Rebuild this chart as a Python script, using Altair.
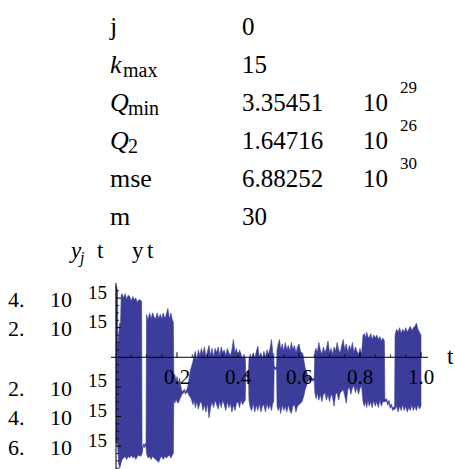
import altair as alt
import pandas as pd

# ---------------- data (signal values in units of 1e15) ----------------
T = [0.000, 0.003, 0.005, 0.006, 0.009, 0.012, 0.015, 0.017, 0.020, 0.025,
     0.030, 0.035, 0.040, 0.045, 0.050, 0.055, 0.060, 0.065, 0.070, 0.075,
     0.080, 0.084,
     0.0855, 0.088, 0.091, 0.094, 0.097, 0.0985,
     0.100, 0.105, 0.110, 0.115, 0.120, 0.125, 0.130, 0.135, 0.140, 0.145,
     0.150, 0.155, 0.160, 0.165, 0.170, 0.175, 0.180, 0.185, 0.188,
     0.1895, 0.193, 0.197, 0.200, 0.204, 0.208, 0.212, 0.216, 0.220, 0.224,
     0.228, 0.232, 0.236, 0.240, 0.244, 0.248,
     0.252, 0.256, 0.260, 0.265, 0.270, 0.275, 0.280, 0.285, 0.290, 0.295,
     0.300, 0.305, 0.310, 0.315, 0.320, 0.325, 0.330, 0.335, 0.340, 0.345,
     0.350, 0.355, 0.360, 0.365, 0.370, 0.375, 0.380, 0.385, 0.390, 0.395,
     0.400, 0.405, 0.410, 0.415, 0.420, 0.424,
     0.4255, 0.430, 0.4345,
     0.436, 0.440, 0.445, 0.450, 0.455, 0.460, 0.465, 0.470, 0.475, 0.480,
     0.485, 0.490, 0.495, 0.500, 0.505, 0.510, 0.514, 0.517,
     0.5185, 0.523, 0.5265,
     0.528, 0.532, 0.536, 0.540, 0.545, 0.550, 0.555, 0.560, 0.565, 0.570,
     0.575, 0.580, 0.585, 0.590, 0.595, 0.600, 0.605, 0.610, 0.613,
     0.616, 0.620, 0.625, 0.630, 0.635, 0.640, 0.645, 0.650,
     0.652, 0.656, 0.660, 0.665, 0.670, 0.675, 0.680, 0.685, 0.690, 0.695,
     0.700, 0.705, 0.710, 0.715, 0.720, 0.725, 0.730, 0.735, 0.740, 0.745,
     0.750, 0.755, 0.760, 0.765, 0.770, 0.775, 0.780, 0.785, 0.790, 0.795,
     0.800, 0.805,
     0.810, 0.814, 0.818, 0.822, 0.826, 0.830, 0.835, 0.840, 0.845, 0.850,
     0.855, 0.860, 0.865, 0.870, 0.875, 0.880,
     0.8815, 0.887, 0.891, 0.895, 0.899, 0.903, 0.907, 0.911, 0.9135,
     0.915, 0.920, 0.925, 0.930, 0.935, 0.940, 0.945, 0.950, 0.955, 0.960,
     0.965, 0.970, 0.975, 0.980, 0.985, 0.990, 0.995, 1.000]

UPPER = [4.85, 4.7, 4.5, 0.8, 1.5, 2.3, 2.3, 4.2, 4.3, 4.0,
         4.3, 3.9, 4.2, 4.1, 3.8, 4.1, 3.9, 4.0, 3.7, 3.9,
         3.85, 3.8,
         -6.3, -6.0, -5.85, -5.95, -5.8, -5.9,
         2.9, 2.5, 3.0, 2.6, 3.0, 2.7, 2.6, 3.0, 2.6, 2.9,
         2.6, 3.0, 2.6, 2.9, 3.3, 2.6, 3.0, 2.5, 2.4,
         -1.1, -1.2, -1.6, -1.3, -1.8, -1.4, -1.9, -2.3, -2.3, -2.15,
         -2.35, -2.2, -1.9, -1.4, -0.9, -0.6,
         -0.3, 0.1, 0.4, -0.2, 0.5, 0.1, 0.6, 0.2, 0.7, 0.0,
         0.4, 0.8, 0.1, 0.6, 0.0, 0.6, 0.3, 0.7, 0.1, 0.7,
         0.3, 0.5, 0.1, 0.6, 0.3, 0.1, 0.5, 1.2, 0.3, 0.6,
         0.0, 0.5, 0.2, -0.1, 0.2, -0.1,
         -1.1, -1.2, -1.1,
         -0.1, 0.2, -0.1, 0.3, -0.1, 0.4, 0.75, 0.0, 0.3, -0.1,
         0.4, 0.0, 0.5, 0.2, 0.6, 1.2, 0.3, 0.2,
         -0.6, -0.7, -0.6,
         0.5, 0.9, 1.2, 0.5, 0.9, 0.4, 1.0, 0.5, 0.8, 0.4,
         1.0, 0.5, 0.8, 0.3, 0.7, 0.9, 0.4, 0.3, 0.2,
         -0.2, -0.7, -1.0, -1.3, -1.4, -1.35, -1.45, -1.4,
         0.4, 0.6, 0.3, 1.0, 0.5, 0.2, 0.7, 0.3, 0.6, 1.1,
         0.3, 0.6, 0.2, 0.7, 0.4, 1.0, 0.5, 0.3, 0.8, 1.2,
         0.5, 0.9, 0.3, 0.8, 0.5, 1.0, 0.3, 0.7, 0.4, 0.2,
         0.6, 0.2,
         1.5, 1.6, 1.3, 1.7, 1.4, 1.3, 1.6, 1.2, 1.5, 1.3,
         1.5, 1.2, 1.4, 1.1, 1.3, 1.1,
         -2.85, -2.8, -3.1, -2.9, -3.3, -3.15, -3.45, -3.35, -3.4,
         1.5, 1.9, 1.7, 2.0, 1.6, 1.9, 1.7, 2.0, 1.7, 1.9,
         2.1, 1.8, 2.0, 2.1, 2.3, 1.9, 1.7, 1.5]

LOWER = [-5.8, -5.8, -5.9, -6.2, -7.2, -7.5, -7.3, -7.1, -6.9, -6.8,
         -6.7, -6.9, -6.7, -6.8, -6.6, -6.8, -6.7, -6.9, -6.7, -6.6,
         -6.7, -6.6,
         -6.5, -6.15, -6.0, -6.1, -5.95, -6.05,
         -6.5, -6.8, -6.7, -6.9, -6.7, -6.8, -6.9, -7.0, -7.1, -6.8,
         -6.7, -6.9, -6.7, -6.8, -6.7, -6.6, -6.8, -6.6, -6.5,
         -2.9, -3.1, -2.8, -3.0, -3.1, -2.9, -2.7, -2.5, -2.45, -2.3,
         -2.5, -2.35, -2.4, -2.6, -2.7, -2.9,
         -3.2, -2.9, -3.4, -3.0, -3.5, -3.1, -3.0, -3.6, -3.2, -3.7,
         -3.1, -4.1, -3.4, -3.0, -3.4, -2.9, -3.2, -3.5, -3.0, -3.4,
         -2.9, -3.2, -3.6, -3.0, -3.4, -3.1, -3.7, -3.2, -3.6, -3.1,
         -3.0, -3.4, -2.9, -3.2, -3.0, -2.9,
         -1.25, -1.35, -1.25,
         -2.9, -3.4, -3.6, -3.1, -3.7, -3.2, -3.6, -3.1, -3.7, -3.3,
         -3.2, -3.7, -3.1, -3.5, -3.2, -3.6, -3.1, -3.0,
         -0.75, -0.85, -0.75,
         -3.3, -3.6, -3.3, -3.8, -3.2, -3.6, -3.3, -3.7, -3.2, -3.6,
         -3.8, -3.3, -3.2, -3.7, -3.3, -3.2, -3.1, -3.0, -2.8,
         -2.6, -2.2, -1.9, -1.6, -1.55, -1.5, -1.6, -1.55,
         -2.4, -2.8, -2.4, -2.9, -2.5, -3.0, -2.5, -2.4, -2.9, -2.5,
         -3.0, -2.5, -2.7, -3.3, -2.5, -2.4, -2.9, -2.4, -2.3, -2.2,
         -2.6, -3.1, -2.2, -2.0, -2.5, -2.1, -1.9, -2.4, -2.0, -2.5,
         -2.1, -1.9,
         -3.0, -3.3, -3.0, -3.4, -2.9, -3.3, -3.0, -3.4, -2.9, -3.3,
         -3.0, -3.4, -2.9, -3.3, -3.0, -3.0,
         -3.0, -2.95, -3.25, -3.05, -3.45, -3.3, -3.6, -3.5, -3.55,
         -3.5, -3.3, -3.7, -3.3, -3.6, -3.2, -3.6, -3.3, -3.7, -3.4,
         -3.6, -3.2, -3.6, -3.3, -3.6, -3.2, -3.5, -3.3]

# axes / tick labels
X_MAJOR = [0.2, 0.4, 0.6, 0.8, 1.0]
X_LABELS = ["0.2", "0.4", "0.6", "0.8", "1.0"]
X_MINOR = [0.05, 0.1, 0.15, 0.25, 0.3, 0.35, 0.45, 0.5, 0.55, 0.65, 0.7,
           0.75, 0.85, 0.9, 0.95]
Y_MAJOR = [4, 2, -2, -4, -6]
Y_MANTISSA = ["4.", "2.", "2.", "4.", "6."]
Y_BASE = ["10", "10", "10", "10", "10"]
Y_EXP = ["15", "15", "15", "15", "15"]
Y_MINOR = [4.5, 3.5, 3, 2.5, 1.5, 1, 0.5, -0.5, -1, -1.5, -2.5, -3, -3.5,
           -4.5, -5, -5.5, -6.5, -7, -7.5]
X_RANGE = [-5 / 305, 312 / 305]
Y_RANGE = [-7.55, 5.02]

# table above the plot
ROW_NAME = ["j", "k", "Q", "Q", "mse", "m"]
ROW_NAME_ITALIC = [False, True, True, True, False, False]
ROW_SUB = ["", "max", "min", "2", "", ""]
ROW_VALUE = ["0", "15", "3.35451", "1.64716", "6.88252", "30"]
ROW_POW = ["", "", "10", "10", "10", ""]
ROW_EXP = ["", "", "29", "26", "30", ""]

AXIS_LABEL = ["y", "j", "t", "y", "t"]
X_AXIS_NAME = "t"

# ---------------- styling ----------------
BLUE = "#3c3c9a"
FONT = "Liberation Serif"
W, H = 317, 186
xs = alt.Scale(domain=X_RANGE, nice=False, zero=False)
ys = alt.Scale(domain=Y_RANGE, nice=False, zero=False)
Y0 = Y_RANGE[1] / (Y_RANGE[1] - Y_RANGE[0]) * H   # pixel row of value 0

sig = pd.DataFrame({"t": T, "upper": UPPER, "lower": LOWER})

band = alt.Chart(sig).mark_area(color=BLUE, stroke=BLUE, strokeWidth=0.6,
                                interpolate="linear", opacity=1).encode(
    x=alt.X("t:Q", scale=xs, axis=None),
    y=alt.Y("upper:Q", scale=ys, axis=None),
    y2="lower:Q",
)

axdf = pd.DataFrame({"x1": [X_RANGE[0]], "x2": [X_RANGE[1]],
                     "y1": [Y_RANGE[0]], "y2": [Y_RANGE[1]], "zero": [0.0]})
x_axis = alt.Chart(axdf).mark_rule(color="black", strokeWidth=1).encode(
    x=alt.X("x1:Q", scale=xs, axis=None), x2="x2:Q",
    y=alt.Y("zero:Q", scale=ys, axis=None))
y_axis = alt.Chart(axdf).mark_rule(color="black", strokeWidth=1).encode(
    x=alt.X("zero:Q", scale=xs, axis=None),
    y=alt.Y("y1:Q", scale=ys, axis=None), y2="y2:Q")

xmaj = pd.DataFrame({"t": X_MAJOR, "lab": X_LABELS, "zero": 0.0})
xmin_ = pd.DataFrame({"t": X_MINOR, "zero": 0.0})
ymaj = pd.DataFrame({"v": Y_MAJOR, "m": Y_MANTISSA, "b": Y_BASE,
                     "e": Y_EXP, "zero": 0.0})
ymin_ = pd.DataFrame({"v": Y_MINOR, "zero": 0.0})

xt_major = alt.Chart(xmaj).mark_rule(color="black", strokeWidth=1,
                                     y2Offset=-5).encode(
    x=alt.X("t:Q", scale=xs, axis=None),
    y=alt.Y("zero:Q", scale=ys, axis=None), y2="zero:Q")
xt_minor = alt.Chart(xmin_).mark_rule(color="black", strokeWidth=0.8,
                                      y2Offset=-3).encode(
    x=alt.X("t:Q", scale=xs, axis=None),
    y=alt.Y("zero:Q", scale=ys, axis=None), y2="zero:Q")
yt_major = alt.Chart(ymaj).mark_rule(color="black", strokeWidth=1,
                                     x2Offset=5).encode(
    y=alt.Y("v:Q", scale=ys, axis=None),
    x=alt.X("zero:Q", scale=xs, axis=None), x2="zero:Q")
yt_minor = alt.Chart(ymin_).mark_rule(color="black", strokeWidth=0.8,
                                      x2Offset=3).encode(
    y=alt.Y("v:Q", scale=ys, axis=None),
    x=alt.X("zero:Q", scale=xs, axis=None), x2="zero:Q")

x_labels = alt.Chart(xmaj).mark_text(font=FONT, fontSize=21, align="center",
                                     baseline="alphabetic", dy=26.7,
                                     color="black").encode(
    x=alt.X("t:Q", scale=xs, axis=None),
    y=alt.Y("zero:Q", scale=ys, axis=None), text="lab:N")


def ylab(field, xpx, size, dy):
    return alt.Chart(ymaj).mark_text(font=FONT, fontSize=size, align="left",
                                     baseline="alphabetic", dy=dy,
                                     color="black").encode(
        x=alt.value(xpx), y=alt.Y("v:Q", scale=ys, axis=None),
        text=f"{field}:N")


y_labels = [ylab("m", -103, 22, 8.8), ylab("b", -61, 22, 8.8),
            ylab("e", -23, 19, 0.5)]


def txt(s, x, y, size, italic=False):
    # anchored at value 0 of the y scale, shifted by dy pixels
    kw = dict(font=FONT, fontSize=size, align="left", baseline="alphabetic",
              color="black", dy=y - Y0)
    if italic:
        kw["fontStyle"] = "italic"
    return alt.Chart(pd.DataFrame({"s": [s], "zero": [0.0]})).mark_text(
        **kw).encode(x=alt.value(x), y=alt.Y("zero:Q", scale=ys, axis=None),
                     text="s:N")


texts = []
SUB_X = [0, 12, 17, 17, 0, 0]
for i in range(len(ROW_NAME)):
    base = -248 + 38 * i
    texts.append(txt(ROW_NAME[i], -1, base, 26, ROW_NAME_ITALIC[i]))
    if ROW_SUB[i]:
        texts.append(txt(ROW_SUB[i], SUB_X[i], base + 4, 20))
    texts.append(txt(ROW_VALUE[i], 131, base, 25))
    if ROW_POW[i]:
        texts.append(txt(ROW_POW[i], 252, base, 25))
        texts.append(txt(ROW_EXP[i], 289, base - 18.5, 17))

# y axis label  y_j t   y t
texts.append(txt(AXIS_LABEL[0], -40, -25, 23, True))
texts.append(txt(AXIS_LABEL[1], -31, -20, 16, True))
texts.append(txt(AXIS_LABEL[2], -14, -25, 23))
texts.append(txt(AXIS_LABEL[3], 21, -25, 23))
texts.append(txt(AXIS_LABEL[4], 36, -25, 23))
# x axis label
texts.append(txt(X_AXIS_NAME, 336, 81, 23))

chart = alt.layer(band, x_axis, y_axis, xt_major, xt_minor, yt_major,
                  yt_minor, x_labels, *y_labels, *texts).properties(
    width=W, height=H,
    autosize=alt.AutoSizeParams(type="none"),
    padding={"left": 111, "top": 283, "right": 27, "bottom": 0},
    background="white",
).configure_view(stroke=None)

chart.save("out.html", embed_options={"renderer": "svg", "actions": False})
